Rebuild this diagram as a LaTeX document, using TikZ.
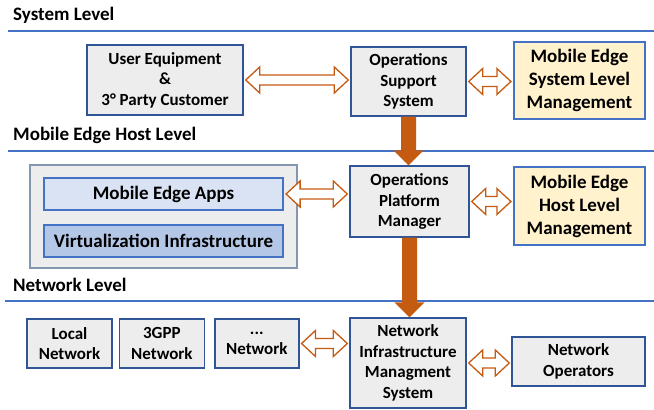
\documentclass[tikz,border=0pt]{standalone}
\usepackage{fontspec}
\setmainfont{Carlito}
\usetikzlibrary{positioning,arrows.meta,calc}

\definecolor{boxline}{HTML}{2F5597}
\definecolor{levelline}{HTML}{4472C4}
\definecolor{boxfill}{HTML}{EDEDED}
\definecolor{mgmtfill}{HTML}{FFF2CC}
\definecolor{appfill}{HTML}{DAE3F3}
\definecolor{virtfill}{HTML}{B4C7E7}
\definecolor{hostline}{HTML}{8497B0}
\definecolor{arrowc}{HTML}{C55A11}

% hollow two-way arrow between two points on one height
\newcommand{\hollowlink}[2]{%
  \draw[hollow] let \p1=#1, \p2=#2 in
    (\x1+2pt,\y1) -- (\x1+16pt,\y1+13pt) -- (\x1+16pt,\y1+5pt)
    -- (\x2-16pt,\y1+5pt) -- (\x2-16pt,\y1+13pt) -- (\x2-2pt,\y1)
    -- (\x2-16pt,\y1-13pt) -- (\x2-16pt,\y1-5pt) -- (\x1+16pt,\y1-5pt)
    -- (\x1+16pt,\y1-13pt) -- cycle;}

% thick downward arrow between two levels
\newcommand{\flowarrow}[2]{%
  \fill[arrowc] let \p1=#1, \p2=#2 in
    (\x1-7.5pt,\y1) -- (\x1+7.5pt,\y1) -- (\x1+7.5pt,\y2+15pt)
    -- (\x1+15pt,\y2+15pt) -- (\x1,\y2) -- (\x1-15pt,\y2+15pt)
    -- (\x1-7.5pt,\y2+15pt) -- cycle;}

\begin{document}
\begin{tikzpicture}[
  x=1pt, y=-1pt,
  font=\bfseries\fontsize{17}{20.5}\selectfont,
  block/.style={draw=boxline, fill=boxfill, line width=1.4pt, align=center, inner sep=0pt},
  mgmt/.style={block, draw=levelline, fill=mgmtfill, line width=2.2pt,
    font=\bfseries\fontsize{19}{23}\selectfont},
  layer/.style={block, draw=levelline, line width=2.2pt,
    font=\bfseries\fontsize{19}{23}\selectfont},
  title/.style={anchor=west, inner sep=0pt, font=\bfseries\fontsize{19}{22}\selectfont},
  levelrule/.style={draw=levelline, line width=1.8pt},
  hollow/.style={draw=arrowc, fill=white, line width=1.3pt, line join=miter}
]
\useasboundingbox (0,0) rectangle (654,410);

% levels
\node[title] (sys) at (13,15) {System Level};
\node[title] (hostlvl) at (13,135) {Mobile Edge Host Level};
\node[title] (netlvl) at (13,285) {Network Level};
\draw[levelrule] (8,31) -- (654,31);
\draw[levelrule] (8,151) -- (654,151);
\draw[levelrule] (5,301) -- (654,301);

% system level
\node[block, minimum width=156, minimum height=70] (ue) at (165,80)
  {User Equipment\\\&\\3° Party Customer};
\node[block, minimum width=115, minimum height=69] (oss) at (408.5,81.5)
  {Operations\\Support\\System};
\node[mgmt, minimum width=131, minimum height=77] (meslm) at (579.5,80.5)
  {Mobile Edge\\System Level\\Management};

% host level
\node[block, draw=hostline, line width=1.2pt, minimum width=267, minimum height=103] (host) at (163.5,216.5) {};
\node[layer, fill=appfill, minimum width=239, minimum height=32] (mea) at (163.5,194)
  {Mobile Edge Apps};
\node[layer, fill=virtfill, minimum width=239, minimum height=32] (vi) at (163.5,241)
  {Virtualization Infrastructure};
\node[block, minimum width=119, minimum height=71] (opm) at (409.5,201.5)
  {Operations\\Platform\\Manager};
\node[mgmt, minimum width=131, minimum height=78] (mehlm) at (579.5,206)
  {Mobile Edge\\Host Level\\Management};

% network level
\node[block, minimum width=85, minimum height=49] (ln) at (69.5,343.5)
  {Local\\Network};
\node[block, minimum width=85, minimum height=49, right=6 of ln] (gpp)
  {3GPP\\Network};
\node[block, minimum width=84, minimum height=49, right=9 of gpp] (dn)
  {...\\Network};
\node[block, minimum width=116, minimum height=90] (nims) at (408,363)
  {Network\\Infrastructure\\Managment\\System};
\node[block, minimum width=133, minimum height=49] (nop) at (578.5,361.5)
  {Network\\Operators};

% arrows
\hollowlink{(ue.east)}{(oss.west |- ue.east)}
\hollowlink{(oss.east)}{(meslm.west |- oss.east)}
\hollowlink{(mea.east)}{(opm.west |- mea.east)}
\hollowlink{(opm.east)}{(mehlm.west |- opm.east)}
\hollowlink{(dn.east)}{(nims.west |- dn.east)}
\hollowlink{(nims.east)}{(nop.west |- nims.east)}
\flowarrow{(oss.south)}{(oss.south |- opm.north)}
\flowarrow{(opm.south)}{(opm.south |- nims.north)}

\end{tikzpicture}
\end{document}
